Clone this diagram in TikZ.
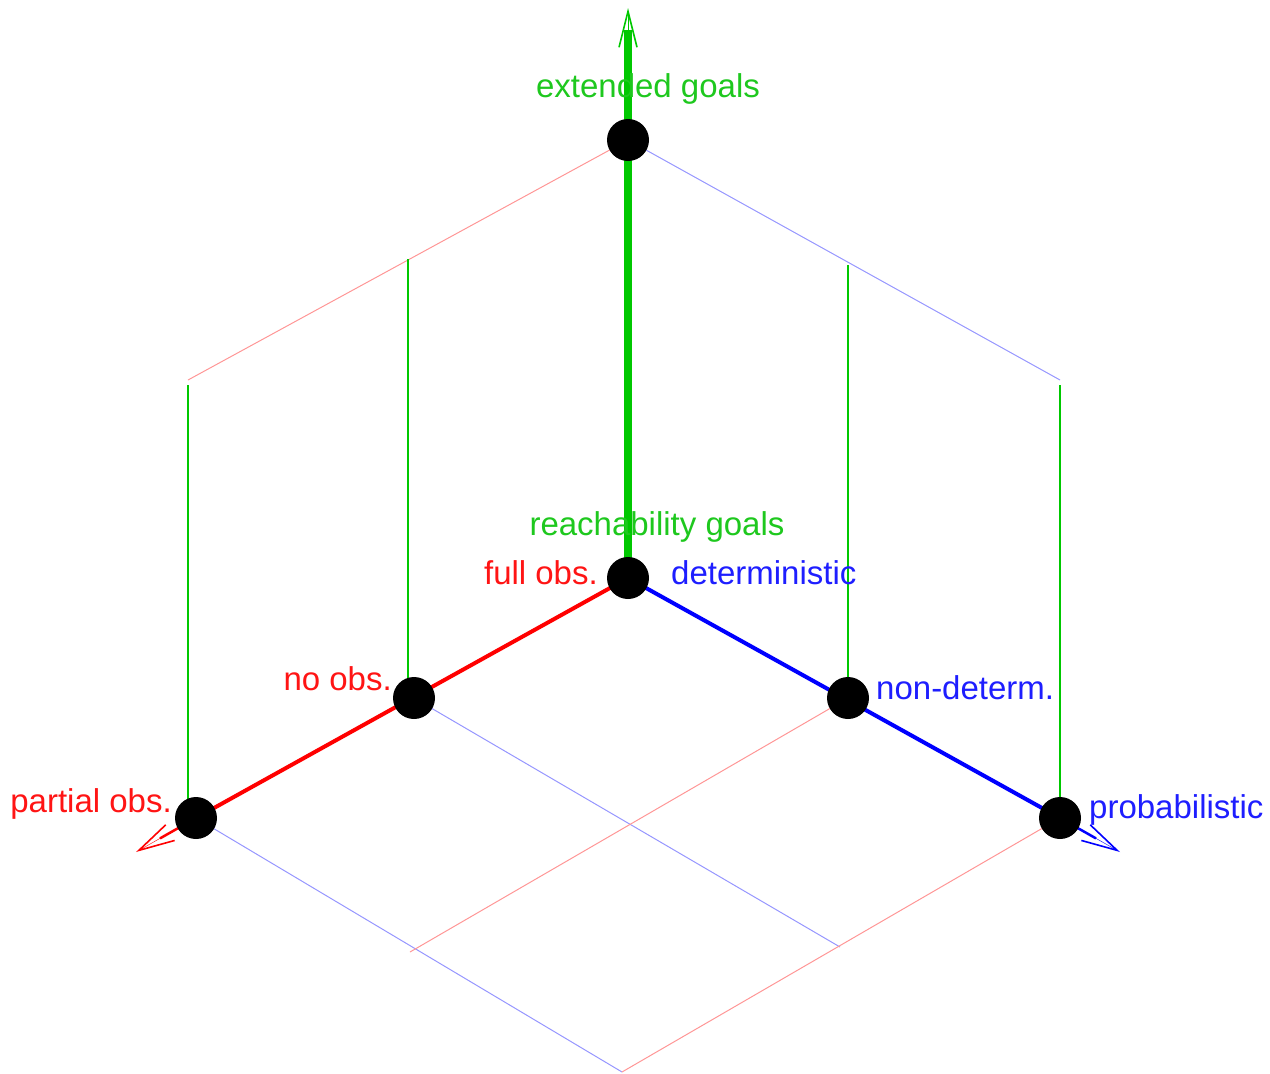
\documentclass[tikz,border=0pt]{standalone}
\usepackage{fontspec}
\setmainfont{Liberation Sans}
\usetikzlibrary{arrows.meta,calc}
\definecolor{gr}{RGB}{0,200,0}
\definecolor{lred}{RGB}{255,150,150}
\definecolor{lblue}{RGB}{150,150,255}
\definecolor{tred}{RGB}{255,20,20}
\definecolor{tblue}{RGB}{30,30,255}
\definecolor{tgreen}{RGB}{30,200,30}
\begin{document}
\begin{tikzpicture}[x=1pt,y=-1pt,
  dot/.style={circle,fill=black,inner sep=0pt,minimum size=42pt},
  lbl/.style={font=\fontsize{33}{38}\selectfont,inner sep=0pt},
  thinred/.style={draw=lred,line width=1pt},
  thinblue/.style={draw=lblue,line width=1pt},
  vgreen/.style={draw=gr,line width=1.6pt},
  barb/.style={-{Straight Barb[length=36pt,width=18pt,line width=1.6pt]}}]
\useasboundingbox (0,0) rectangle (1270,1074);
% coordinates
\coordinate (O) at (628,578);
\coordinate (R1) at (414,698);
\coordinate (R2) at (196,818);
\coordinate (B1) at (848,698);
\coordinate (B2) at (1060,818);
\coordinate (G) at (628,140);
\coordinate (rtip) at (136,852);
\coordinate (btip) at (1120,852);
\coordinate (gtip) at (628,8);
\coordinate (gend) at (628,30);
\coordinate (TL) at (188,380);
\coordinate (TR) at (1060,380);
\coordinate (TLg) at (188,385);
\coordinate (TRg) at (1060,385);
\coordinate (BL) at (410,952);
\coordinate (BR) at (840,947);
\coordinate (BB) at (622,1072);
\coordinate (v1t) at (408,259);
\coordinate (v1b) at (408,690);
\coordinate (v0b) at (188,812);
\coordinate (v2t) at (848,265);
% thin upper frame
\draw[thinred] (G) -- (TL);
\draw[thinblue] (G) -- (TR);
\draw[vgreen] (TLg) -- (v0b);
\draw[vgreen] (v1t) -- (v1b);
\draw[vgreen] (v2t) -- (B1);
\draw[vgreen] (TRg) -- (B2);
% bottom grid
\draw[thinblue] (R1) -- (BR);
\draw[thinblue] (R2) -- (BB);
\draw[thinred] (B1) -- (BL);
\draw[thinred] (B2) -- (BB);
% axes
\draw[red,line width=4pt] (O) -- (R2);
\draw[red,line width=2.5pt] (R2) -- ($(R2)!0.6!(rtip)$);
\draw[red,barb] (R2) -- (rtip);
\draw[blue,line width=4pt] (O) -- (B2);
\draw[blue,line width=2.5pt] (B2) -- ($(B2)!0.6!(btip)$);
\draw[blue,barb] (B2) -- (btip);
\draw[gr,line width=7.5pt] (O) -- (gend);
\draw[gr,barb] (G) -- (gtip);
% dots
\node[dot] (nO) at (O) {};
\node[dot] (nR1) at (R1) {};
\node[dot] (nR2) at (R2) {};
\node[dot] (nB1) at (B1) {};
\node[dot] (nB2) at (B2) {};
\node[dot] (nG) at (G) {};
% labels
\node[lbl,text=tgreen,anchor=base] (lext) at (648,97) {extended goals};
\node[lbl,text=tgreen,anchor=base] (lreach) at (657,535) {reachability goals};
\node[lbl,text=tred,anchor=base east] (lfull) at (598,584) {full obs.};
\node[lbl,text=tblue,anchor=base west] (ldet) at (671,584) {deterministic};
\node[lbl,text=tred,anchor=base east] (lno) at (392,690) {no obs.};
\node[lbl,text=tblue,anchor=base west] (lnon) at (876,699) {non-determ.};
\node[lbl,text=tred,anchor=base east] (lpart) at (172,812) {partial obs.};
\node[lbl,text=tblue,anchor=base west] (lprob) at (1089,818) {probabilistic};
\end{tikzpicture}
\end{document}
